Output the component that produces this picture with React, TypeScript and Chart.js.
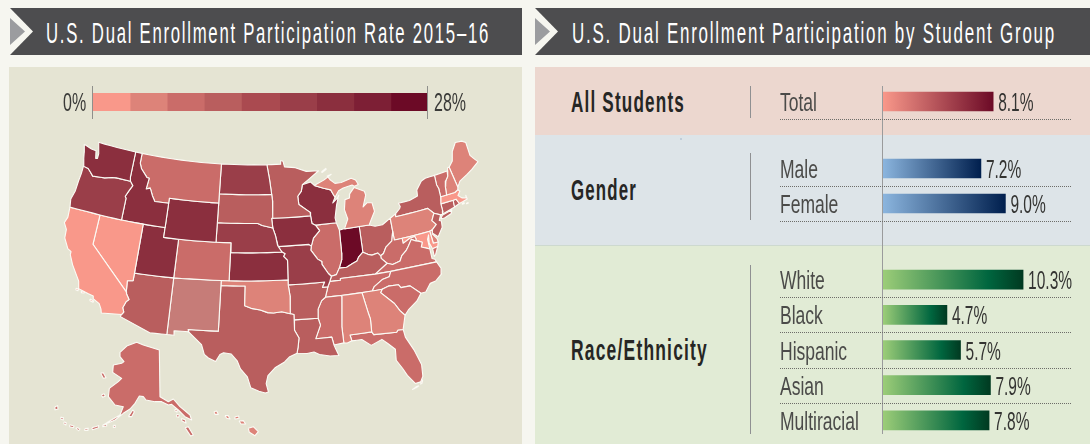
import React, { useEffect, useRef } from "react";
import { Chart, registerables } from "chart.js";

Chart.register(...registerables);

// ---------- data ----------
const titleLeft = "U.S. Dual Enrollment Participation Rate 2015–16";
const titleRight = "U.S. Dual Enrollment Participation by Student Group";

const totalLabels = ["Total"];
const totalValues = [8.1];
const genderLabels = ["Male", "Female"];
const genderValues = [7.2, 9.0];
const raceLabels = ["White", "Black", "Hispanic", "Asian", "Multiracial"];
const raceValues = [10.3, 4.7, 5.7, 7.9, 7.8];

const legendEdges = [0, 3.1, 6.2, 9.3, 12.4, 15.6, 18.7, 21.8, 24.9, 28];
const legendColors = ["#f9988a", "#dd8379", "#ca6c69", "#b95e5e", "#aa4a50", "#9a3e49", "#8b2f3e", "#7d1f35", "#6c0a26"];

const stateNames = ["WA","OR","CA","NV","ID","MT","WY","UT","CO","AZ","NM","ND","SD","NE","KS","OK","TX","MN","IA","MO","AR","LA","MS","AL","GA","FL","SC","NC","TN","KY","VA","WV","MD","DE","NJ","PA","NY","VT","NH","ME","MA","RI","CT","MI","WI","IL","IN","OH"];
const stateRates = [20,17,2,2,20,8,20,19,8,11,5,17,11,17,20,5,11,11,20,17,11,11,8,5,5,8,8,8,8,11,8,8,2,5,11,5,11,8,5,5,2,11,11,5,20,8,27,11];

const WA = [-124.72,48.38,-123.5,48.13,-122.8,48.1,-122.55,47.35,-122.3,47.4,-122.3,47.9,-122.5,48.4,-122.75,49,-117.04,49,-117.04,46.42,-116.92,45.99,-118.98,46,-119.6,45.92,-120.6,45.7,-121.2,45.65,-122.3,45.55,-122.8,45.9,-123.2,46.15,-123.95,46.25,-124.1,46.7,-124.2,47,-124.4,47.6];
const OR = [-123.95,46.25,-123.2,46.15,-122.8,45.9,-122.3,45.55,-121.2,45.65,-120.6,45.7,-119.6,45.92,-118.98,46,-116.92,45.99,-116.46,45.6,-116.85,45,-117.2,44.4,-117.03,44.2,-117.03,42,-120,42,-124.2,42,-124.4,42.8,-124.1,43.7,-124.05,44.7,-123.95,45.5];
const CA = [-124.2,42,-120,42,-120,39,-114.63,35,-114.55,34.8,-114.14,34.3,-114.43,34.05,-114.72,33.4,-114.5,33,-114.72,32.72,-117.12,32.53,-117.25,32.9,-117.6,33.4,-118.4,33.75,-118.5,34.03,-119.2,34.15,-120.5,34.45,-120.65,35.15,-121.9,36.6,-122.5,37.5,-122.5,37.8,-123,38,-123.75,38.95,-123.85,39.8,-124.35,40.4,-124.1,41];
const NV = [-120,42,-114.04,42,-114.04,36.2,-114.75,36.1,-114.63,35,-120,39];
const ID = [-117.04,49,-116.05,49,-116.05,48,-115.7,47.45,-114.7,46.7,-114.35,46.65,-114.5,45.55,-113.95,45.7,-113.45,44.95,-113,44.45,-111.05,44.48,-111.05,42,-117.03,42,-117.03,44.2,-117.2,44.4,-116.85,45,-116.46,45.6,-116.92,45.99,-117.04,46.42];
const MT = [-116.05,49,-104.05,49,-104.05,45,-111.05,45,-111.05,44.48,-113,44.45,-113.45,44.95,-113.95,45.7,-114.5,45.55,-114.35,46.65,-114.7,46.7,-115.7,47.45,-116.05,48];
const WY = [-111.05,45,-104.05,45,-104.05,41,-111.05,41];
const UT = [-114.04,42,-111.05,42,-111.05,41,-109.05,41,-109.05,37,-114.04,37];
const CO = [-109.05,41,-102.05,41,-102.05,37,-109.05,37];
const AZ = [-114.04,37,-109.05,37,-109.05,31.33,-111.07,31.33,-114.8,32.5,-114.72,32.72,-114.5,33,-114.72,33.4,-114.43,34.05,-114.14,34.3,-114.55,34.8,-114.63,35,-114.75,36.1,-114.04,36.2];
const NM = [-109.05,37,-103.04,37,-103.04,32,-106.62,32,-106.53,31.78,-108.2,31.78,-108.2,31.33,-109.05,31.33];
const ND = [-104.05,49,-97.23,49,-96.85,47.5,-96.56,45.94,-104.05,45.94];
const SD = [-104.05,45.94,-96.56,45.94,-96.45,45.3,-96.45,43.5,-96.6,43.5,-96.45,42.5,-97.9,42.8,-98.5,43,-104.05,43];
const NE = [-104.05,43,-98.5,43,-97.9,42.8,-96.45,42.5,-96.1,41.7,-95.85,40.7,-95.3,40,-102.05,40,-102.05,41,-104.05,41];
const KS = [-102.05,40,-95.3,40,-94.9,39.8,-95.1,39.55,-94.6,39.1,-94.62,37,-102.05,37];
const OK = [-103.04,37,-94.62,37,-94.62,36.5,-94.43,35.4,-94.48,33.64,-95.5,33.88,-96.5,33.8,-97.2,33.85,-98.1,34.13,-99.2,34.3,-100,34.56,-100,36.5,-103.04,36.5];
const TX = [-103.04,36.5,-100,36.5,-100,34.56,-99.2,34.3,-98.1,34.13,-97.2,33.85,-96.5,33.8,-95.5,33.88,-94.48,33.64,-94.04,33.55,-94.04,33.02,-94.04,31.99,-93.55,31.2,-93.7,30.3,-93.85,29.7,-94.7,29.4,-95.3,28.9,-96.4,28.35,-97.2,27.6,-97.4,26.8,-97.15,25.95,-97.5,25.85,-98.2,26.05,-99.1,26.4,-99.5,27.5,-100.3,28.3,-100.7,29.1,-101.4,29.77,-102.3,29.88,-102.7,29.7,-103.15,28.98,-104,29.3,-104.5,29.65,-104.9,30.6,-106.53,31.78,-106.62,32,-103.04,32];
const MN = [-97.23,49,-95.15,49,-95.15,49.38,-94.8,49.3,-94.6,48.7,-93,48.55,-91.4,48.07,-89.6,48,-91,47.3,-92.1,46.75,-92.3,46.1,-92.85,45.6,-92.75,44.75,-91.25,43.85,-91.22,43.5,-96.45,43.5,-96.45,45.3,-96.56,45.94,-96.85,47.5];
const IA = [-96.6,43.5,-91.22,43.5,-91.1,42.7,-90.65,42.5,-90.15,41.9,-91.05,41.2,-91.4,40.4,-91.7,40.6,-95.77,40.58,-96.1,41.7,-96.45,42.5];
const MO = [-95.77,40.58,-91.7,40.6,-91.4,40.4,-91.5,40,-90.7,39,-90.2,38.7,-90.2,38.4,-89.5,37.3,-89.15,37,-89.4,36.5,-89.7,36,-90.37,36,-90.05,36.5,-94.62,36.5,-94.62,37,-94.6,39.1,-95.1,39.55,-94.9,39.8,-95.3,40];
const AR = [-94.62,36.5,-90.05,36.5,-90.37,36,-89.7,36,-90.1,35,-90.6,34.7,-91.1,33.9,-91.17,33,-94.04,33.02,-94.04,33.55,-94.48,33.64,-94.43,35.4];
const LA = [-94.04,33.02,-91.17,33,-90.95,32.3,-91.6,31,-89.73,31,-89.55,30.2,-89.4,29.8,-89.1,29.1,-90.1,29.15,-91.3,29.4,-91.9,29.7,-92.7,29.6,-93.85,29.7,-93.7,30.3,-93.55,31.2,-94.04,31.99];
const MS = [-90.1,35,-88.2,35,-88.1,34.9,-88.45,31.9,-88.4,30.3,-89.55,30.2,-89.73,31,-91.6,31,-90.95,32.3,-91.17,33,-91.1,33.9,-90.6,34.7];
const AL = [-88.2,35,-85.6,35,-85.13,32.8,-85,32.3,-85.05,31,-87.6,31,-87.45,30.4,-88,30.25,-88.4,30.3,-88.45,31.9,-88.1,34.9];
const GA = [-85.6,35,-83.1,35,-83.35,34.7,-81.9,33.4,-81.4,32.6,-80.9,32.05,-81.4,30.7,-82,30.75,-82.2,30.55,-84.85,30.7,-85.05,31,-85,32.3,-85.13,32.8];
const FL = [-87.6,31,-85.05,31,-84.85,30.7,-82.2,30.55,-82,30.75,-81.4,30.7,-81.3,29.9,-80.55,28.4,-80.05,26.9,-80.15,25.7,-80.5,25.2,-81.1,25.15,-81.8,26.1,-82.2,26.9,-82.75,27.8,-82.65,28.9,-83.4,29.6,-84,30.1,-85.3,29.68,-86.3,30.4,-87.45,30.4];
const FLKeys = [-80.25,25.35,-80.35,25.05,-80.55,25,-80.45,25.25];
const FLKeys2 = [-80.75,24.85,-81.1,24.7,-81.5,24.6,-81.1,24.8];
const SC = [-83.35,34.7,-83.1,35,-82.3,35.2,-81.05,35.15,-80.8,34.82,-79.67,34.8,-78.55,33.86,-79.2,33.2,-80.4,32.5,-80.9,32.05,-81.4,32.6,-81.9,33.4];
const NC = [-84.32,35,-83.1,35,-82.3,35.2,-81.05,35.15,-80.8,34.82,-79.67,34.8,-78.55,33.86,-77.95,33.87,-77.2,34.6,-76.5,34.7,-75.6,35.25,-75.5,35.8,-75.85,36.55,-81.68,36.59,-82,36.1,-82.9,35.95,-84,35.4];
const TN = [-89.7,36,-89.4,36.5,-88.07,36.5,-88.05,36.68,-83.68,36.6,-81.68,36.59,-82,36.1,-82.9,35.95,-84,35.4,-84.32,35,-90.1,35];
const KY = [-89.4,36.5,-89.15,37,-88.5,37.1,-88.05,37.8,-87.1,37.8,-86.3,38.1,-85.7,38.3,-85.4,38.7,-84.8,39.1,-84.2,38.8,-83.7,38.65,-82.9,38.75,-82.6,38.42,-82.6,38.15,-81.97,37.54,-83.68,36.6,-88.05,36.68,-88.07,36.5];
const VA = [-83.68,36.6,-81.97,37.54,-81.3,37.3,-80.3,37.5,-79.95,38,-79.3,38.4,-78.9,38.8,-78.35,39.4,-77.83,39.13,-77.5,39.05,-77.05,38.85,-77.3,38.4,-76.3,38,-76.3,37,-75.97,36.85,-75.85,36.55,-81.68,36.59];
const VAShore = [-75.95,37.95,-75.25,38.03,-75.75,37.3,-75.97,37.15];
const WV = [-82.6,38.42,-82.2,38.6,-81.75,39.2,-80.85,39.7,-80.52,40.64,-80.52,39.72,-79.48,39.72,-79.48,39.2,-78.5,39.55,-77.83,39.6,-77.73,39.32,-77.83,39.13,-78.35,39.4,-78.9,38.8,-79.3,38.4,-79.95,38,-80.3,37.5,-81.3,37.3,-81.97,37.54,-82.6,38.15];
const MD = [-79.48,39.72,-75.79,39.72,-75.7,38.46,-75.05,38.45,-75.25,38.03,-75.95,37.95,-76.2,38.6,-76.05,39.4,-76.3,39,-76.3,38,-77.3,38.4,-77.05,38.85,-77.5,39.05,-77.83,39.13,-77.73,39.32,-77.83,39.6,-78.5,39.55,-79.48,39.2];
const DE = [-75.79,39.72,-75.42,39.8,-75.55,39.4,-75.1,38.8,-75.05,38.45,-75.7,38.46];
const NJ = [-74.7,41.35,-73.9,41,-74.25,40.5,-74,40.4,-74.1,39.75,-74.9,38.95,-75.5,39.45,-75.4,39.8,-74.75,40.2,-75.19,40.7];
const PA = [-80.52,41.98,-79.76,42.27,-79.76,42,-75.35,42,-74.7,41.35,-75.19,40.7,-74.75,40.2,-75.42,39.8,-75.79,39.72,-80.52,39.72];
const NY = [-79.76,42.27,-79.05,42.7,-78.9,42.9,-79.05,43.27,-77.5,43.27,-76.3,43.5,-76.2,44.1,-75.3,44.85,-74.7,45,-73.35,45,-73.4,44,-73.25,43.6,-73.28,42.74,-73.5,42.05,-73.5,41.3,-73.65,41,-73.9,41,-74.7,41.35,-75.35,42,-79.76,42];
const NYLong = [-74,40.6,-73.7,40.9,-72.3,41.15,-72.5,40.8,-73.5,40.58];
const VT = [-73.35,45,-71.5,45.01,-71.6,44.5,-72.05,44.1,-72.3,43.6,-72.45,42.73,-73.28,42.74,-73.25,43.6,-73.4,44];
const NH = [-71.5,45.01,-71.3,45.3,-71.08,45.3,-70.7,43.1,-70.8,42.87,-71.3,42.7,-72.45,42.73,-72.3,43.6,-72.05,44.1,-71.6,44.5];
const ME = [-71.08,45.3,-70.4,45.8,-70.25,46.2,-70,46.7,-69.23,47.46,-68.3,47.35,-67.8,47.07,-67.8,45.7,-67.45,45.3,-67,44.85,-68.2,44.3,-69,44,-70.2,43.6,-70.7,43.1];
const MA = [-73.5,42.05,-73.28,42.74,-71.3,42.7,-70.8,42.87,-70.6,42.65,-71,42.3,-70.6,41.95,-70.05,41.8,-70,42.05,-69.95,41.67,-70.65,41.55,-71.12,41.5,-71.38,42.02,-71.8,42.02];
const MAIsle = [-70.8,41.4,-70.5,41.45,-70.5,41.33,-70.75,41.32];
const MAIsle2 = [-70.2,41.3,-69.98,41.3,-70.0,41.23,-70.2,41.23];
const RI = [-71.8,42.02,-71.38,42.02,-71.12,41.5,-71.85,41.32];
const CT = [-73.5,42.05,-71.8,42.02,-71.85,41.32,-73.65,41,-73.5,41.3];
const MILower = [-86.8,41.76,-84.8,41.76,-83.45,41.73,-83.1,42.2,-82.45,43,-82.6,43.9,-83.3,44,-83.9,43.65,-83.3,44.8,-83.4,45.2,-84.75,45.78,-85.5,45.2,-85.6,44.8,-86.25,44.7,-86.5,43.7,-86.2,42.7];
const MIUpper = [-90.4,46.55,-89.1,46.15,-88.1,45.9,-87.8,45.4,-87.6,45.1,-87,45.7,-86.3,45.9,-85,46.05,-84.7,45.9,-84.1,46,-84.4,46.5,-85,46.75,-86.5,46.5,-87.4,46.5,-88,46.9,-88.4,47.35,-87.8,47.47,-88.9,47];
const MIRoyale = [-89.2,47.85,-88.5,48.15,-88.45,48.05,-89.1,47.78];
const WI = [-92.1,46.75,-90.9,46.95,-90.4,46.55,-89.1,46.15,-88.1,45.9,-87.8,45.4,-87.6,45.1,-88,44.55,-87.4,44.9,-87.05,45.25,-87.5,44.3,-87.9,43,-87.8,42.49,-90.65,42.5,-91.1,42.7,-91.22,43.5,-91.25,43.85,-92.75,44.75,-92.85,45.6,-92.3,46.1];
const IL = [-90.65,42.5,-87.8,42.49,-87.5,41.7,-87.53,39.35,-87.6,38.7,-88.05,37.8,-88.5,37.1,-89.15,37,-89.5,37.3,-90.2,38.4,-90.2,38.7,-90.7,39,-91.5,40,-91.4,40.4,-91.05,41.2,-90.15,41.9];
const IN = [-87.5,41.7,-87,41.76,-84.8,41.76,-84.8,39.1,-85.4,38.7,-85.7,38.3,-86.3,38.1,-87.1,37.8,-88.05,37.8,-87.6,38.7,-87.53,39.35];
const OH = [-84.8,41.76,-83.45,41.73,-82.7,41.5,-81.7,41.5,-80.52,41.98,-80.52,40.64,-80.85,39.7,-81.75,39.2,-82.2,38.6,-82.6,38.42,-82.9,38.75,-83.7,38.65,-84.2,38.8,-84.8,39.1];

const stateOutlines: number[][][] = [[WA],[OR],[CA],[NV],[ID],[MT],[WY],[UT],[CO],[AZ],[NM],[ND],[SD],[NE],[KS],[OK],[TX],[MN],[IA],[MO],[AR],[LA],[MS],[AL],[GA],[FL,FLKeys,FLKeys2],[SC],[NC],[TN],[KY],[VA,VAShore],[WV],[MD],[DE],[NJ],[PA],[NY,NYLong],[VT],[NH],[ME],[MA,MAIsle,MAIsle2],[RI],[CT],[MILower,MIUpper,MIRoyale],[WI],[IL],[IN],[OH]];

// Inset shapes, in the inset's own drawing units
const alaskaRate = 8;
const hawaiiRate = 5;
const channelRate = 2;
const alaskaInset = [
  [290,172,310,180,358,195,360,335,385,350,400,342,420,365,450,390,455,405,435,395,415,375,395,358,385,360,365,350,345,350,318,345,310,335,298,333,285,355,270,372,250,385,225,405,190,420,210,407,240,390,250,365,225,360,205,335,208,310,235,290,245,280,218,262,220,240,245,235,252,230,240,215,240,202,262,182],
  [182,265,190,263,198,278,190,280],[184,330,192,326,196,333,188,337],
  [45,365,53,362,54,372,47,374],[62,396,69,398,70,405,63,403],[72,410,79,413,78,420,72,417],[89,419,102,423,100,428,89,425],[110,427,120,432,116,437,108,431],[134,431,145,430,144,436,134,436],[155,428,176,422,176,428,158,434],[188,421,200,418,200,423,188,425],[220,421,226,421,226,427,220,427],
  [265,395,278,375,283,380,275,395],[405,373,412,375,411,381,405,378],[410,388,418,390,416,397,410,395],[424,400,436,405,438,414,426,408],[435,428,445,425,460,450,452,453],
];
const hawaiiInset = [[522,380,530,378,535,388,525,388],[555,392,565,392,570,402,560,400],[585,395,596,393,597,400,587,402],[597,408,610,407,617,417,603,417],[625,430,640,425,655,440,645,452,628,442]];
const channelInset = [[108,10,116,12,114,17,108,15],[124,18,134,20,132,24,124,23],[150,42,161,48,159,52,150,47]];
const newMexicoColor = "#c67c78";

// ---------- helpers ----------
const FONT = '"Liberation Sans", sans-serif';

function albers(lon: number, lat: number) {
  const r = Math.PI / 180;
  const n = 0.60285, C = 1.3512, rho0 = 1.3032;
  const rho = Math.sqrt(C - 2 * n * Math.sin(lat * r)) / n;
  const th = n * (lon + 96) * r;
  const x = rho * Math.sin(th), y = rho0 - rho * Math.cos(th);
  const sag = y > 0 ? 5 * Math.max(0, 1 - (x / 0.33) ** 2) * Math.sqrt(y / 0.2) : 0;
  return { x: 277 + 575 * x - 9.6 * y, y: 275.3 - 23 * x - 575.5 * y + sag };
}
function ringToPoints(ring: number[]) {
  const pts: { x: number; y: number }[] = [];
  const n = ring.length / 2;
  for (let i = 0; i <= n; i++) {
    const a = i % n, b = (i + 1) % n;
    const lon = ring[a * 2], lat = ring[a * 2 + 1];
    pts.push(albers(lon, lat));
    if (i === n) break;
    const lon2 = ring[b * 2], lat2 = ring[b * 2 + 1];
    if (lat === lat2 && Math.abs(lon2 - lon) > 1) {
      const steps = Math.ceil(Math.abs(lon2 - lon));
      for (let s = 1; s < steps; s++) pts.push(albers(lon + ((lon2 - lon) * s) / steps, lat));
    }
  }
  return pts;
}
function insetToPoints(ring: number[]) {
  const pts: { x: number; y: number }[] = [];
  for (let i = 0; i <= ring.length / 2; i++) {
    const k = (i % (ring.length / 2)) * 2;
    pts.push({ x: 40 + ring[k] / 3, y: 285 + ring[k + 1] / 3 });
  }
  return pts;
}
function binColor(rate: number) {
  for (let i = 0; i < legendColors.length; i++) if (rate < legendEdges[i + 1]) return legendColors[i];
  return legendColors[legendColors.length - 1];
}
function squeezed(ctx: CanvasRenderingContext2D, s: string, x: number, y: number, font: string, color: string, sx: number) {
  ctx.save();
  ctx.font = font;
  ctx.fillStyle = color;
  ctx.textBaseline = "alphabetic";
  ctx.translate(x, y);
  ctx.scale(sx, 1);
  ctx.fillText(s, 0, 0);
  ctx.restore();
}
function polyDataset(points: { x: number; y: number }[], color: string) {
  return { data: points, showLine: true, fill: "shape", backgroundColor: color, borderColor: "#fbfbf5", borderWidth: 1.1, pointRadius: 0, tension: 0, borderJoinStyle: "round" };
}

function makeMap(canvas: HTMLCanvasElement) {
  const datasets: any[] = [];
  stateOutlines.forEach((rings, i) => {
    const color = stateNames[i] === "NM" ? newMexicoColor : binColor(stateRates[i]);
    rings.forEach((ring) => datasets.push(polyDataset(ringToPoints(ring), color)));
  });
  alaskaInset.forEach((r) => datasets.push(polyDataset(insetToPoints(r), binColor(alaskaRate))));
  hawaiiInset.forEach((r) => datasets.push(polyDataset(insetToPoints(r), binColor(hawaiiRate))));
  channelInset.forEach((r) => datasets.push(polyDataset(insetToPoints(r), binColor(channelRate))));
  return new Chart(canvas, {
    type: "scatter",
    data: { datasets },
    options: {
      responsive: false, animation: false, devicePixelRatio: 1,
      layout: { padding: 0 }, events: [],
      plugins: { legend: { display: false }, tooltip: { enabled: false } },
      scales: {
        x: { type: "linear", min: 0, max: 525, display: false },
        y: { type: "linear", min: 0, max: 444, reverse: true, display: false },
      },
    },
  } as any);
}

function makeLegend(canvas: HTMLCanvasElement) {
  const endLabels = {
    id: "endLabels",
    afterDatasetsDraw(chart: any) {
      const c = chart.ctx, xs = chart.scales.x, a = chart.chartArea;
      const x0 = xs.getPixelForValue(legendEdges[0]), x1 = xs.getPixelForValue(legendEdges[legendEdges.length - 1]);
      c.save();
      c.strokeStyle = "#8f8f8b";
      c.lineWidth = 1;
      [x0, x1].forEach((x: number) => {
        c.beginPath();
        c.moveTo(Math.round(x) + 0.5 - 1, a.top - 7);
        c.lineTo(Math.round(x) + 0.5 - 1, a.bottom + 8);
        c.stroke();
      });
      c.restore();
      const f = `25px ${FONT}`;
      squeezed(c, "0%", x0 - 30, a.bottom, f, "#3a3a38", 0.64);
      squeezed(c, "28%", x1 + 6, a.bottom, f, "#3a3a38", 0.64);
    },
  };
  const datasets = legendColors.map((col, i) => ({
    data: [[legendEdges[i], legendEdges[i + 1]]], backgroundColor: col, barPercentage: 1, categoryPercentage: 1, grouped: false,
  }));
  return new Chart(canvas, {
    type: "bar",
    data: { labels: ["rate"], datasets },
    options: {
      indexAxis: "y", responsive: false, animation: false, devicePixelRatio: 1, events: [],
      layout: { padding: { left: 43, right: 52, top: 8, bottom: 8 } },
      plugins: { legend: { display: false }, tooltip: { enabled: false } },
      scales: { x: { type: "linear", min: 0, max: 28, display: false }, y: { type: "category", display: false } },
    },
    plugins: [endLabels],
  } as any);
}

function makeBars(canvas: HTMLCanvasElement, labels: string[], values: number[], stops: [number, string][]) {
  const rowText = {
    id: "rowText",
    afterDatasetsDraw(chart: any) {
      const c = chart.ctx, xs = chart.scales.x, ys = chart.scales.y;
      labels.forEach((lab, i) => {
        const y = ys.getPixelForValue(i);
        squeezed(c, lab, 5, y + 9.5, `25px ${FONT}`, "#4b4b49", 0.7);
        squeezed(c, values[i].toFixed(1) + "%", xs.getPixelForValue(values[i]) + 5, y + 9.5, `25px ${FONT}`, "#343432", 0.62);
        if (labels !== raceLabels || i < labels.length - 1) {
          c.save();
          c.strokeStyle = "#6d6d69";
          c.lineWidth = 1;
          c.setLineDash([1, 1]);
          c.beginPath();
          const ly = Math.round(y + 17.6) + 0.5;
          c.moveTo(5, ly);
          c.lineTo(297, ly);
          c.stroke();
          c.restore();
        }
      });
    },
  };
  const paint = (ctx: any) => {
    const xs = ctx.chart.scales.x;
    const a = xs ? xs.getPixelForValue(0) : NaN;
    const b = xs && typeof ctx.raw === "number" ? xs.getPixelForValue(ctx.raw) : NaN;
    if (!Number.isFinite(a) || !Number.isFinite(b)) return stops[0][1];
    const g = ctx.chart.ctx.createLinearGradient(a, 0, b, 0);
    stops.forEach(([p, col]) => g.addColorStop(p, col));
    return g;
  };
  return new Chart(canvas, {
    type: "bar",
    data: { labels, datasets: [{ data: values, barThickness: 19, backgroundColor: paint }] },
    options: {
      indexAxis: "y", responsive: false, animation: false, devicePixelRatio: 1, events: [],
      layout: { padding: { left: 108, bottom: 4 } },
      plugins: { legend: { display: false }, tooltip: { enabled: false } },
      scales: { x: { type: "linear", min: 0, max: 15, display: false }, y: { type: "category", display: false } },
    },
    plugins: [rowText],
  } as any);
}

const redStops: [number, string][] = [[0, "#f9988a"], [1, "#6c0a26"]];
const blueStops: [number, string][] = [[0, "#8bb5de"], [1, "#001f4e"]];
const greenStops: [number, string][] = [[0, "#9ccd78"], [0.75, "#00663f"], [1, "#013a21"]];

function Header({ x, w, title, textX, textW }: { x: number; w: number; title: string; textX: number; textW: number }) {
  return (
    <g>
      <rect x={x} y={8} width={w} height={47} fill="#4d4d4f" />
      <polygon points={`${x},8 ${x + 23},31.5 ${x},55`} fill="#f6f6f0" />
      <polygon points={`${x},18 ${x + 15},31.5 ${x},45`} fill="#9b9c9f" />
      <text x={textX} y={43} fontFamily={FONT} fontSize={29} letterSpacing={3} fill="#ffffff" textLength={textW} lengthAdjust="spacingAndGlyphs">{title}</text>
    </g>
  );
}

export default function App() {
  const mapRef = useRef<HTMLCanvasElement>(null);
  const legRef = useRef<HTMLCanvasElement>(null);
  const totRef = useRef<HTMLCanvasElement>(null);
  const genRef = useRef<HTMLCanvasElement>(null);
  const raceRef = useRef<HTMLCanvasElement>(null);

  useEffect(() => {
    document.body.style.margin = "0";
    document.body.style.background = "#f6f6f0";
    document.body.style.overflow = "hidden";
    const charts = [
      makeMap(mapRef.current!),
      makeLegend(legRef.current!),
      makeBars(totRef.current!, totalLabels, totalValues, redStops),
      makeBars(genRef.current!, genderLabels, genderValues, blueStops),
      makeBars(raceRef.current!, raceLabels, raceValues, greenStops),
    ];
    return () => charts.forEach((c) => c.destroy());
  }, []);

  const abs = (left: number, top: number): React.CSSProperties => ({ position: "absolute", left, top });
  const grp = { fontFamily: FONT, fontSize: 29, fontWeight: 700, letterSpacing: 2, fill: "#262624", lengthAdjust: "spacingAndGlyphs" } as any;
  return (
    <div style={{ position: "relative", width: 1090, height: 444, overflow: "hidden", background: "#f6f6f0" }}>
      <svg width={1090} height={444} style={abs(0, 0)}>
        <rect x={9} y={67} width={513} height={377} fill="#e5e4d3" />
        <rect x={535} y={67} width={555} height={68} fill="#ecd7cf" />
        <rect x={535} y={135} width={555} height={110} fill="#dde4e8" />
        <rect x={535} y={245} width={555} height={199} fill="#e1ebd5" />
        <rect x={535} y={245} width={555} height={1} fill="#cdd9cf" />
        <Header x={10} w={512} title={titleLeft} textX={46} textW={444} />
        <Header x={535} w={555} title={titleRight} textX={572} textW={484} />
        <text x={571} y={112} textLength={114} {...grp}>All Students</text>
        <text x={571} y={200} textLength={66} {...grp}>Gender</text>
        <text x={571} y={360} textLength={137} {...grp}>Race/Ethnicity</text>
        <line x1={750.5} x2={750.5} y1={86} y2={118} stroke="#8f9092" />
        <line x1={750.5} x2={750.5} y1={153} y2={220} stroke="#8f9092" />
        <line x1={750.5} x2={750.5} y1={265} y2={434} stroke="#8f9092" />
        <line x1={882.5} x2={882.5} y1={86} y2={434} stroke="#9a9b9c" />
        <circle cx={681} cy={139} r={0.7} fill="#8fa3c0" />
      </svg>
      <canvas ref={mapRef} width={525} height={444} style={abs(0, 0)} />
      <canvas ref={legRef} width={430} height={34} style={abs(50, 85)} />
      <canvas ref={totRef} width={312} height={39} style={abs(775, 84)} />
      <canvas ref={genRef} width={312} height={74} style={abs(775, 151)} />
      <canvas ref={raceRef} width={312} height={180} style={abs(775, 262)} />
    </div>
  );
}
